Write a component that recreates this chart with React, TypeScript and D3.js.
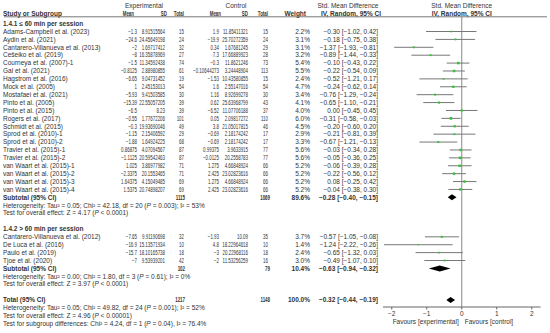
import React from "react";
import * as d3 from "d3";

// Subgroup 1.4.1 (<= 60 min per session)
const names1 = [
  "Adams-Campbell et al. (2023)",
  "Aydin et al. (2021)",
  "Cantarero-Villanueva et al. (2013)",
  "Cešeiko et al. (2019)",
  "Courneya et al. (2007)-1",
  "Gal et al. (2021)",
  "Hagstrom et al. (2016)",
  "Mock et al. (2005)",
  "Mostafaei et al. (2021)",
  "Pinto et al. (2005)",
  "Pinto et al. (2015)",
  "Rogers et al. (2017)",
  "Schmidt et al. (2015)",
  "Sprod et al. (2010)-1",
  "Sprod et al. (2010)-2",
  "Travier et al. (2015)-1",
  "Travier et al. (2015)-2",
  "van Waart et al. (2015)-1",
  "van Waart et al. (2015)-2",
  "van Waart et al. (2015)-3",
  "van Waart et al. (2015)-4",
];
const expMean1 = [-1.3, -24.6, -2, -8, -1.5, -0.8125, -6.65, 1, -5.93, -15.39, -6.5, -0.55, -0.3, -1.15, -1.88, 0.86875, -1.1125, 1.025, -2.3375, 1.64375, 1.5375];
const expSD1 = [8.91515564, 24.45649198, 1.69717412, 16.35878969, 11.34592438, 2.88980855, 9.04731452, 2.45153013, 9.41503585, 22.55057205, 8.23, 1.77672206, 19.93690046, 2.15406592, 1.64924225, 4.07094567, 20.59542463, 3.86977982, 20.1553465, 4.15049485, 20.74898207];
const expN1 = [15, 24, 32, 27, 74, 61, 19, 54, 30, 39, 39, 101, 49, 29, 68, 87, 87, 71, 71, 69, 69];
const ctlMean1 = [1.9, -19.9, 0.34, 7.3, -0.3, -0.10644273, -1.53, 1.6, 1.16, 0.62, -6.52, 0.05, 3.8, -0.69, -0.69, 0.99375, -0.0125, 1.275, 2.425, 1.275, 2.425];
const ctlSD1 = [11.85411321, 25.70272359, 1.67681245, 17.66889923, 11.8621246, 3.24448904, 10.43580855, 2.55147016, 8.92699278, 25.63968799, 11.07706188, 2.09817272, 21.05017815, 2.18174242, 2.18174242, 3.9633915, 20.2558783, 4.66848924, 23.02823616, 4.66848924, 23.02823616];
const ctlN1 = [15, 24, 29, 28, 73, 113, 15, 54, 30, 43, 37, 110, 46, 17, 17, 77, 77, 66, 66, 66, 66];
const weight1 = [2.2, 3.1, 3.1, 3.2, 5.4, 5.5, 2.4, 4.7, 3.4, 4.1, 4.0, 6.0, 4.5, 2.9, 3.3, 5.6, 5.6, 5.2, 5.2, 5.2, 5.2];
const smd1 = [-0.3, -0.18, -1.37, -0.89, -0.1, -0.22, -0.52, -0.24, -0.76, -0.65, 0.0, -0.31, -0.2, -0.21, -0.67, -0.03, -0.05, -0.06, -0.22, 0.08, -0.04];
const lo1 = [-1.02, -0.75, -1.93, -1.44, -0.43, -0.54, -1.21, -0.62, -1.29, -1.1, -0.45, -0.58, -0.6, -0.81, -1.21, -0.34, -0.36, -0.39, -0.56, -0.25, -0.38];
const hi1 = [0.42, 0.38, -0.81, -0.33, 0.22, 0.09, 0.17, 0.14, -0.24, -0.21, 0.45, -0.03, 0.2, 0.39, -0.13, 0.28, 0.25, 0.28, 0.12, 0.42, 0.3];

// Subgroup 1.4.2 (> 60 min per session)
const names2 = ["Cantarero-Villanueva et al. (2012)", "De Luca et al. (2016)", "Paulo et al. (2019)", "Tjoe et al. (2020)"];
const expMean2 = [-7.65, -16.9, -15.7, -7];
const expSD2 = [9.91190698, 15.13571934, 18.10165738, 9.53939201];
const expN2 = [32, 10, 18, 42];
const ctlMean2 = [-1.93, 4.8, -3, -2];
const ctlSD2 = [10.09, 18.22964618, 20.22968116, 11.53256259];
const ctlN2 = [35, 10, 18, 16];
const weight2 = [3.7, 1.4, 2.4, 3.0];
const smd2 = [-0.57, -1.24, -0.65, -0.49];
const lo2 = [-1.05, -2.22, -1.32, -1.07];
const hi2 = [-0.08, -0.26, 0.03, 0.1];

// pooled results: [expN, ctlN, weight, smd, lo, hi]
const subtotal1 = [1115, 1069, 89.6, -0.28, -0.4, -0.15];
const subtotal2 = [102, 79, 10.4, -0.63, -0.94, -0.32];
const total = [1217, 1148, 100.0, -0.32, -0.44, -0.19];

const xTicks = [-2, -1, 0, 1, 2];

const neg = (s: string) => s.replace(/-/g, "\u2212");
const f2 = (v: number) => neg(v.toFixed(2));
const ci = (m: number, l: number, h: number) => `${f2(m)} [${f2(l)}, ${f2(h)}]`;

const FONT = "'Liberation Sans', Arial, sans-serif";
const FS = 6.5;
const TXT = "#333";
const NARROW = 0.68; // the mean / SD / n columns are set in a squeezed face

const col = { study: 3, eMean: 137, eSD: 165, eN: 184, cMean: 219, cSD: 248, cN: 268, w: 310, ci: 378 };

type Row =
  | { kind: "head"; label: string; i: number }
  | { kind: "study"; i: number; name: string; v: number[]; w: number; smd: number; lo: number; hi: number }
  | { kind: "sub"; i: number; label: string; p: number[] }
  | { kind: "note"; i: number; parts: (string | [string])[] };

const T = (props: any) => (
  <text fontFamily={FONT} fontSize={FS} fill={TXT} dy="0.35em" {...props} />
);

// right-aligned, horizontally squeezed text for the numeric columns
const N = ({ x, y, children, bold }: any) => (
  <text
    transform={`translate(${x},${y}) scale(${NARROW},1)`}
    fontFamily={FONT}
    fontSize={FS}
    fill={TXT}
    dy="0.35em"
    textAnchor="end"
    fontWeight={bold ? "bold" : "normal"}
  >
    {children}
  </text>
);

export default function App() {
  const width = 550;
  const height = 333;

  const y = d3.scaleLinear().domain([2, 39]).range([31.5, 323.7]);
  const x = d3.scaleLinear().domain([-2.25, 2.25]).range([383, 540.5]);
  const box = d3.scaleSqrt().domain([0, 6]).range([0, 2.6]);

  const rows: Row[] = [];
  rows.push({ kind: "head", label: "1.4.1 \u2264 60 min per session", i: 1 });
  names1.forEach((n, k) =>
    rows.push({
      kind: "study", i: 2 + k, name: n,
      v: [expMean1[k], expSD1[k], expN1[k], ctlMean1[k], ctlSD1[k], ctlN1[k]],
      w: weight1[k], smd: smd1[k], lo: lo1[k], hi: hi1[k],
    })
  );
  rows.push({ kind: "sub", i: 23, label: "Subtotal (95% CI)", p: subtotal1 });
  rows.push({ kind: "note", i: 24, parts: ["Heterogeneity: Tau\u00b2 = 0.05; Chi\u00b2 = 42.18, df = 20 (", ["P"], " = 0.003); I\u00b2 = 53%"] });
  rows.push({ kind: "note", i: 25, parts: ["Test for overall effect: Z = 4.17 (", ["P"], " < 0.0001)"] });
  rows.push({ kind: "head", label: "1.4.2 > 60 min per session", i: 27 });
  names2.forEach((n, k) =>
    rows.push({
      kind: "study", i: 28 + k, name: n,
      v: [expMean2[k], expSD2[k], expN2[k], ctlMean2[k], ctlSD2[k], ctlN2[k]],
      w: weight2[k], smd: smd2[k], lo: lo2[k], hi: hi2[k],
    })
  );
  rows.push({ kind: "sub", i: 32, label: "Subtotal (95% CI)", p: subtotal2 });
  rows.push({ kind: "note", i: 33, parts: ["Heterogeneity: Tau\u00b2 = 0.00; Chi\u00b2 = 1.80, df = 3 (", ["P"], " = 0.61); I\u00b2 = 0%"] });
  rows.push({ kind: "note", i: 34, parts: ["Test for overall effect: Z = 3.97 (", ["P"], " < 0.0001)"] });
  rows.push({ kind: "sub", i: 36, label: "Total (95% CI)", p: total });
  rows.push({ kind: "note", i: 37, parts: ["Heterogeneity: Tau\u00b2 = 0.05; Chi\u00b2 = 49.82, df = 24 (", ["P"], " = 0.001); I\u00b2 = 52%"] });
  rows.push({ kind: "note", i: 38, parts: ["Test for overall effect: Z = 4.96 (", ["P"], " < 0.00001)"] });
  rows.push({ kind: "note", i: 39, parts: ["Test for subgroup differences: Chi\u00b2 = 4.24, df = 1 (", ["P"], " = 0.04), I\u00b2 = 76.4%"] });

  const axisY = 307;
  const x0 = x(0);

  const diamond = (yy: number, m: number, l: number, h: number) =>
    `M${x(l)},${yy} L${x(m)},${yy - 3} L${x(h)},${yy} L${x(m)},${yy + 3} Z`;

  return (
    <svg width={width} height={height} style={{ position: "absolute", left: 0, top: 0, background: "#fff" }}>
      {/* column headers */}
      <T x={144} y={6} textAnchor="middle">Experimental</T>
      <T x={236} y={6} textAnchor="middle">Control</T>
      <T x={348} y={6} textAnchor="middle">Std. Mean Difference</T>
      <T x={x0} y={6} textAnchor="middle">Std. Mean Difference</T>
      <T x={col.study} y={13.5} fontWeight="bold">Study or Subgroup</T>
      <N x={col.eMean - 3} y={13.5} bold>Mean</N>
      <N x={col.eSD + 2} y={13.5} bold>SD</N>
      <N x={col.eN} y={13.5} bold>Total</N>
      <N x={col.cMean + 2} y={13.5} bold>Mean</N>
      <N x={col.cSD} y={13.5} bold>SD</N>
      <N x={col.cN} y={13.5} bold>Total</N>
      <T x={306} y={13.5} textAnchor="end" fontWeight="bold">Weight</T>
      <T x={351} y={13.5} textAnchor="middle" fontWeight="bold">IV, Random, 95% CI</T>
      <T x={x0} y={13.5} textAnchor="middle" fontWeight="bold">IV, Random, 95% CI</T>
      <line x1={4} x2={547} y1={16.8} y2={16.8} stroke="#555" strokeWidth={0.8} />

      {/* null line */}
      <line x1={x0} x2={x0} y1={16.8} y2={axisY} stroke="#888" strokeWidth={1} />

      {rows.map((r, k) => {
        const yy = y(r.i);
        if (r.kind === "head") {
          return <T key={k} x={col.study} y={yy} fontWeight="bold">{r.label}</T>;
        }
        if (r.kind === "note") {
          return (
            <T key={k} x={col.study} y={yy}>
              {r.parts.map((p, j) =>
                typeof p === "string" ? <tspan key={j}>{p}</tspan> : <tspan key={j} fontStyle="italic">{p[0]}</tspan>
              )}
            </T>
          );
        }
        if (r.kind === "sub") {
          const [en, cn, w, m, l, h] = r.p;
          return (
            <g key={k}>
              <T x={col.study} y={yy} fontWeight="bold">{r.label}</T>
              <N x={col.eN + 1} y={yy} bold>{en}</N>
              <N x={col.cN + 2} y={yy} bold>{cn}</N>
              <T x={col.w} y={yy} textAnchor="end" fontWeight="bold">{w.toFixed(1)}%</T>
              <T x={col.ci} y={yy} textAnchor="end" fontWeight="bold">{ci(m, l, h)}</T>
              <path d={diamond(yy, m, l, h)} fill="#000" />
            </g>
          );
        }
        const [em, es, en, cm, cs, cn] = r.v;
        const s = box(r.w);
        return (
          <g key={k}>
            <T x={col.study} y={yy}>{r.name}</T>
            <N x={col.eMean} y={yy}>{neg(String(em))}</N>
            <N x={col.eSD} y={yy}>{String(es)}</N>
            <N x={col.eN} y={yy}>{en}</N>
            <N x={col.cMean} y={yy}>{neg(String(cm))}</N>
            <N x={col.cSD} y={yy}>{String(cs)}</N>
            <N x={col.cN} y={yy}>{cn}</N>
            <T x={col.w} y={yy} textAnchor="end">{r.w.toFixed(1)}%</T>
            <T x={col.ci} y={yy} textAnchor="end">{ci(r.smd, r.lo, r.hi)}</T>
            <line x1={x(r.lo)} x2={x(r.hi)} y1={yy} y2={yy} stroke="#777" strokeWidth={1} />
            <rect x={x(r.smd) - s / 2} y={yy - s / 2} width={s} height={s} fill="#2ec52e" />
          </g>
        );
      })}

      {/* x axis */}
      <g>
        <line x1={x.range()[0]} x2={x.range()[1]} y1={axisY} y2={axisY} stroke="#666" strokeWidth={1} />
        {xTicks.map((t) => (
          <g key={t}>
            <line x1={x(t)} x2={x(t)} y1={axisY} y2={axisY + 2.5} stroke="#666" strokeWidth={1} />
            <T x={x(t)} y={axisY + 7} textAnchor="middle">{neg(String(t))}</T>
          </g>
        ))}
        <T x={x0 - 3} y={axisY + 14.5} textAnchor="end">Favours [experimental]</T>
        <T x={x0 + 3} y={axisY + 14.5}>Favours [control]</T>
      </g>
    </svg>
  );
}
